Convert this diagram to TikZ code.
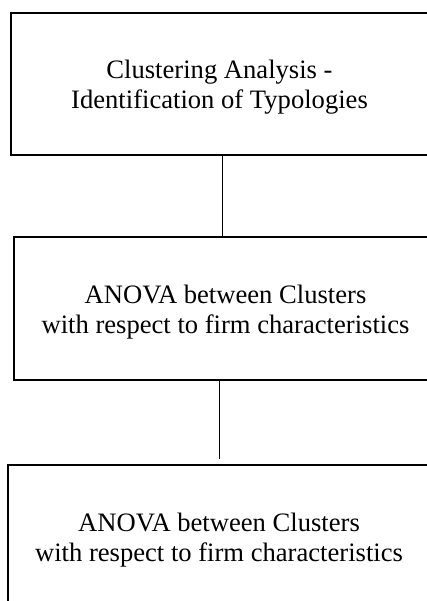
\documentclass[tikz,border=0pt]{standalone}
\usepackage{fontspec}
\setmainfont{Liberation Serif}
\begin{document}
\begin{tikzpicture}[x=1pt,y=-1pt,
  stepbox/.style={draw=black,line width=1.8pt,rectangle,inner sep=0pt,align=center,
    text height=60pt,text depth=10pt,
    font=\fontsize{26.6}{30}\selectfont},
  link/.style={draw=black,line width=1pt}]
\path[use as bounding box,clip] (0,0) rectangle (427,601);
\fill[white] (0,0) rectangle (427,601);
\node[stepbox,minimum width=417pt,minimum height=142pt] (b1) at (219.5,84)
  {Clustering Analysis -\\Identification of Typologies};
\node[stepbox,minimum width=423pt,minimum height=143pt] (b2) at (225.5,308.5)
  {ANOVA between Clusters\\with respect to firm characteristics};
\node[stepbox,minimum width=422pt,minimum height=143pt] (b3) at (219,536.5)
  {ANOVA between Clusters\\with respect to firm characteristics};
\draw[link] ([xshift=2.5pt]b1.south) -- ([xshift=2.5pt]b1.south |- b2.north);
\draw[link,shorten >=5pt] ([xshift=-6.5pt]b2.south) -- ([xshift=-6.5pt]b2.south |- b3.north);
\end{tikzpicture}
\end{document}
